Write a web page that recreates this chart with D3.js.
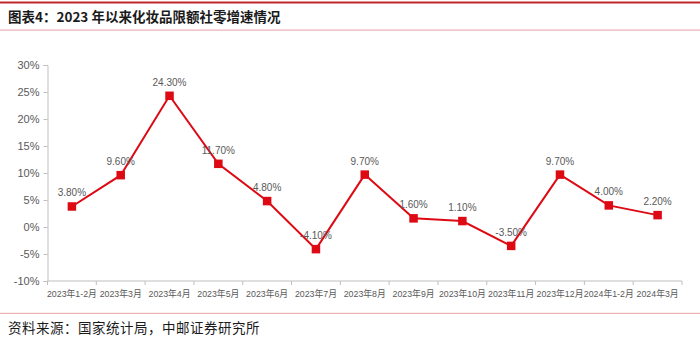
<!DOCTYPE html>
<html>
<head>
<meta charset="utf-8">
<script src="https://cdn.jsdelivr.net/npm/d3@7/dist/d3.min.js"></script>
<style>
  html, body { margin: 0; padding: 0; background: #fff; }
  svg { display: block; }
</style>
</head>
<body>
<svg id="chart" width="700" height="344"></svg>
<script>
// Monthly cosmetics retail sales growth (YoY, %)
const months = ["2023年1-2月", "2023年3月", "2023年4月", "2023年5月", "2023年6月", "2023年7月",
  "2023年8月", "2023年9月", "2023年10月", "2023年11月", "2023年12月", "2024年1-2月", "2024年3月"];
const growth = [3.8, 9.6, 24.3, 11.7, 4.8, -4.1, 9.7, 1.6, 1.1, -3.5, 9.7, 4.0, 2.2];
const yTicks = [-10, -5, 0, 5, 10, 15, 20, 25, 30];

const titleText = "图表4：2023 年以来化妆品限额社零增速情况";
const sourceText = "资料来源：国家统计局，中邮证券研究所";

const svg = d3.select("#chart");
const cjk = "'Noto Sans CJK SC', sans-serif";
const latin = "Arial, 'Liberation Sans', 'Noto Sans CJK SC', sans-serif";

// Header and footer rules
svg.append("rect").attr("x", 0).attr("y", 1.5).attr("width", 700).attr("height", 2).attr("fill", "#c0262d");
svg.append("rect").attr("x", 0).attr("y", 29.5).attr("width", 700).attr("height", 1.2).attr("fill", "#eab0b6");
svg.append("rect").attr("x", 0).attr("y", 312.8).attr("width", 700).attr("height", 1.2).attr("fill", "#eab0b6");

svg.append("text").attr("x", 8).attr("y", 22)
  .attr("font-family", cjk).attr("font-weight", "bold").attr("font-size", 13.5)
  .attr("fill", "#1a1a1a").text(titleText);

svg.append("text").attr("x", 8).attr("y", 333)
  .attr("font-family", cjk).attr("font-size", 13.5).attr("letter-spacing", 0.5)
  .attr("fill", "#1a1a1a").text(sourceText);

// Plot area
const plotLeft = 47.5, plotRight = 682, plotTop = 65, plotBottom = 281;

const x = d3.scaleBand().domain(months).range([plotLeft, plotRight]).padding(0);
const y = d3.scaleLinear().domain([-10, 30]).range([plotBottom, plotTop]);

const axisColor = "#bfbfbf";
const textColor = "#595959";

// Y axis
const yAxis = svg.append("g").attr("transform", `translate(${plotLeft},0)`)
  .call(d3.axisLeft(y).tickValues(yTicks).tickSize(4).tickPadding(4).tickFormat(d => d + "%"));
yAxis.select(".domain").attr("stroke", axisColor);
yAxis.selectAll(".tick line").attr("stroke", axisColor);
yAxis.selectAll("text").attr("font-family", latin).attr("font-size", 11).attr("fill", textColor);

// X axis with ticks on the band boundaries
const xAxis = svg.append("g").attr("transform", `translate(0,${plotBottom})`);
xAxis.append("line").attr("x1", plotLeft).attr("x2", plotRight).attr("y1", 0).attr("y2", 0).attr("stroke", axisColor);
const bounds = months.map(m => x(m)).concat([plotRight]);
xAxis.selectAll("line.tk").data(bounds).join("line").attr("class", "tk")
  .attr("x1", d => d).attr("x2", d => d).attr("y1", 0).attr("y2", 4).attr("stroke", axisColor);
xAxis.selectAll("text").data(months).join("text")
  .attr("x", d => x(d) + x.bandwidth() / 2).attr("y", 15.5)
  .attr("text-anchor", "middle")
  .attr("font-family", latin).attr("font-size", 8.8).attr("fill", textColor)
  .text(d => d);

// Series line and markers
const red = "#dd0a14";
const pts = months.map((m, i) => ({ m, v: growth[i] }));
const line = d3.line().x(d => x(d.m) + x.bandwidth() / 2).y(d => y(d.v));
svg.append("path").datum(pts).attr("d", line)
  .attr("fill", "none").attr("stroke", red).attr("stroke-width", 2);

const ms = 8.5;
svg.selectAll("rect.mk").data(pts).join("rect").attr("class", "mk")
  .attr("x", d => x(d.m) + x.bandwidth() / 2 - ms / 2)
  .attr("y", d => y(d.v) - ms / 2)
  .attr("width", ms).attr("height", ms).attr("fill", red);

// Value labels
svg.selectAll("text.lbl").data(pts).join("text").attr("class", "lbl")
  .attr("x", d => x(d.m) + x.bandwidth() / 2)
  .attr("y", d => y(d.v) - 10)
  .attr("text-anchor", "middle")
  .attr("font-family", latin).attr("font-size", 10).attr("fill", textColor)
  .text(d => d.v.toFixed(2) + "%");
</script>
</body>
</html>
